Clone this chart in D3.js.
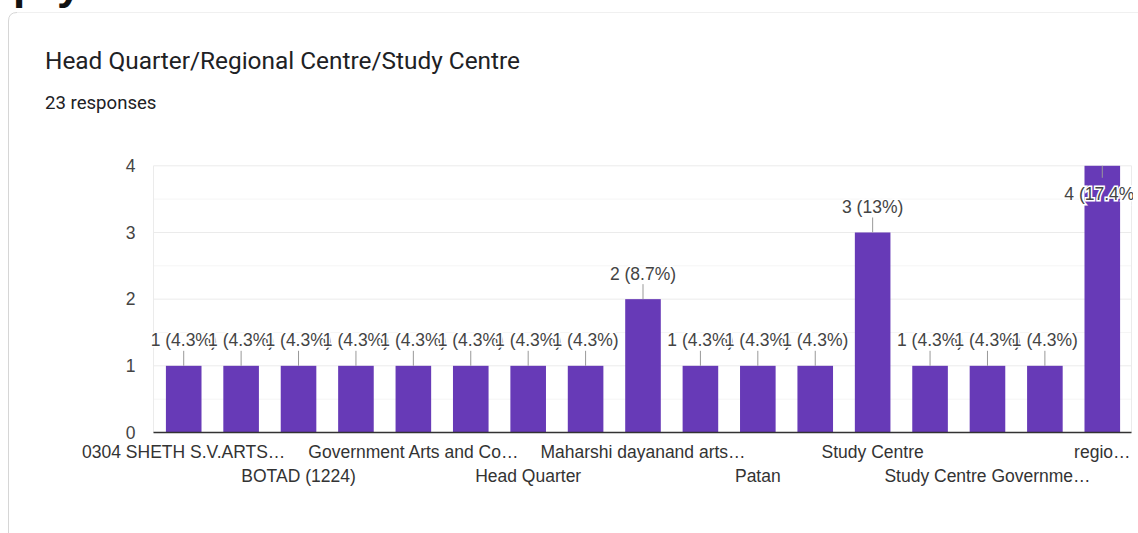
<!DOCTYPE html>
<html>
<head>
<meta charset="utf-8">
<script src="https://cdn.jsdelivr.net/npm/d3@7"></script>
<style>
  body { margin: 0; background: #fff; overflow: hidden; }
  svg { display: block; }
</style>
</head>
<body>
<div id="chart"></div>
<script>
// Category labels as shown under the bars (every other one is hidden by the chart)
var categories = [
  "0304 SHETH S.V.ARTS…", "Ahmedabad", "BOTAD (1224)", "Bhavnagar",
  "Government Arts and Co…", "Government College", "Head Quarter", "Junagadh",
  "Maharshi dayanand arts…", "Navsari", "Patan", "Regional Centre",
  "Study Centre", "Study Centre Bhavnagar", "Study Centre Governme…", "Surat",
  "regio…"
];
var counts = [1, 1, 1, 1, 1, 1, 1, 1, 2, 1, 1, 1, 3, 1, 1, 1, 4];
var yTicks = [0, 1, 2, 3, 4];
var totalResponses = 23;

var svgWidth = 1138;
var svgHeight = 533;
var fontChart = "'Liberation Sans', Arial, sans-serif";

var svg = d3.select("#chart").append("svg")
            .attr("width", svgWidth)
            .attr("height", svgHeight);

// Cut-off heading above the card (only descenders show)
svg.append("g").selectAll("text")
   .data([{ ch: "p", x: 13 }, { ch: "y", x: 57 }])
   .enter().append("text")
   .attr("x", function(d) { return d.x; })
   .attr("y", -1)
   .attr("font-family", fontChart)
   .attr("font-weight", "bold")
   .attr("font-size", "44px")
   .attr("fill", "#111")
   .text(function(d) { return d.ch; });

// Card outline
svg.append("path")
   .attr("d", "M8.5,533 L8.5,21 Q8.5,12.5 17,12.5")
   .attr("fill", "none")
   .attr("stroke", "#d6d6d6");
svg.append("line")
   .attr("x1", 17).attr("x2", svgWidth)
   .attr("y1", 12.5).attr("y2", 12.5)
   .attr("stroke", "#f0f0f0");

// Title + response count
svg.append("text")
   .attr("x", 45)
   .attr("y", 69)
   .attr("font-family", "Roboto, sans-serif")
   .attr("font-size", "24.4px")
   .attr("fill", "#202124")
   .text("Head Quarter/Regional Centre/Study Centre");

svg.append("text")
   .attr("x", 45)
   .attr("y", 109)
   .attr("font-family", "Roboto, sans-serif")
   .attr("font-size", "18.6px")
   .attr("fill", "#202124")
   .text(totalResponses + " responses");

// Scales
var plotLeft = 153.5, plotRight = 1131.5;
var x = d3.scaleBand()
          .domain(categories)
          .range([155, 1131])
          .paddingInner(0.38)
          .paddingOuter(0.19);

var y = d3.scaleLinear()
          .domain([0, 4])
          .range([432.5, 165.8]);

// Minor gridlines (half steps)
svg.append("g").selectAll("line")
   .data(d3.range(0.5, 4, 1))
   .enter().append("line")
   .attr("x1", plotLeft).attr("x2", plotRight)
   .attr("y1", function(d) { return y(d); })
   .attr("y2", function(d) { return y(d); })
   .attr("stroke", "#f5f5f5");

// Major gridlines
svg.append("g").selectAll("line")
   .data(yTicks.slice(1))
   .enter().append("line")
   .attr("x1", plotLeft).attr("x2", plotRight)
   .attr("y1", function(d) { return y(d); })
   .attr("y2", function(d) { return y(d); })
   .attr("stroke", "#ebebeb");

// Side lines of the plot area
svg.append("g").selectAll("line")
   .data([plotLeft, plotRight])
   .enter().append("line")
   .attr("x1", function(d) { return d; })
   .attr("x2", function(d) { return d; })
   .attr("y1", y(4)).attr("y2", y(0))
   .attr("stroke", "#ebebeb");

// Y axis labels
var yAxis = svg.append("g")
   .attr("transform", "translate(" + plotLeft + ",0)")
   .call(d3.axisLeft(y).tickValues(yTicks).tickFormat(d3.format("d")).tickSize(0).tickPadding(18));
yAxis.select(".domain").remove();
yAxis.selectAll("text")
     .attr("font-family", fontChart)
     .attr("font-size", "17.5px")
     .attr("fill", "#444");

// Bars
svg.append("g").selectAll("rect")
   .data(counts)
   .enter().append("rect")
   .attr("x", function(d, i) { return x(categories[i]); })
   .attr("y", function(d) { return y(d); })
   .attr("width", x.bandwidth())
   .attr("height", function(d) { return y(0) - y(d); })
   .attr("fill", "#673ab7");

// Baseline
svg.append("line")
   .attr("x1", plotLeft).attr("x2", plotRight)
   .attr("y1", y(0)).attr("y2", y(0))
   .attr("stroke", "#333")
   .attr("stroke-width", 1.5);

// X axis labels: every other category, alternating two rows
var xAxis = svg.append("g")
   .attr("transform", "translate(0," + y(0) + ")")
   .call(d3.axisBottom(x).tickSize(0).tickFormat(function(d, i) { return i % 2 === 0 ? d : ""; }));
xAxis.select(".domain").remove();
xAxis.selectAll("text")
     .attr("dy", null)
     .attr("y", function(d, i) { return (i % 4 === 0) ? 25.5 : 49.5; })
     .attr("font-family", fontChart)
     .attr("font-size", "17.5px")
     .attr("fill", "#333");

// Value annotations with leader lines
var clip = svg.append("clipPath").attr("id", "plotClip");
clip.append("rect").attr("x", 0).attr("y", 0).attr("width", 1133).attr("height", svgHeight);

function pctLabel(v) {
  return v + " (" + (+(v / totalResponses * 100).toFixed(1)) + "%)";
}
function fitsAbove(v) { return y(v) - 34 > y(4); }

var ann = svg.append("g").attr("clip-path", "url(#plotClip)");
counts.forEach(function(v, i) {
  var cx = x(categories[i]) + x.bandwidth() / 2;
  var top = y(v);
  var above = fitsAbove(v);
  ann.append("line")
     .attr("x1", cx).attr("x2", cx)
     .attr("y1", above ? top - 15 : top)
     .attr("y2", above ? top : top + 12)
     .attr("stroke", "#999");
  ann.append("text")
     .attr("x", cx)
     .attr("y", above ? top - 19.5 : top + 34)
     .attr("text-anchor", "middle")
     .attr("font-family", fontChart)
     .attr("font-size", "17.5px")
     .attr("fill", "#444")
     .attr("stroke", "#fff")
     .attr("stroke-width", 3)
     .attr("paint-order", "stroke")
     .text(pctLabel(v));
});
</script>
</body>
</html>
